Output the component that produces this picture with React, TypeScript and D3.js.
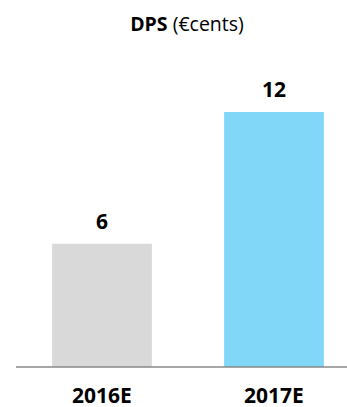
import React from "react";
import * as d3 from "d3";

const categories = ["2016E", "2017E"];
const values = [5.8, 12];
const valueLabels = ["6", "12"];
const barColors = ["#d9d9d9", "#81d7f8"];

export default function App() {
  const width = 347;
  const height = 407;
  const baseline = 367;
  const x = d3.scaleBand<string>().domain(categories).range([16, 360]).paddingInner(0.42).paddingOuter(0.21);
  const y = d3.scaleLinear().domain([0, 12]).range([baseline, 112]);
  const font = "'Open Sans', sans-serif";
  return (
    <svg width={width} height={height} style={{ position: "absolute", left: 0, top: 0 }}>
      <text x={187} y={31} textAnchor="middle" fontFamily={font} fontSize={19.5} fill="#000">
        <tspan fontWeight="bold">DPS</tspan>
        <tspan> (€cents)</tspan>
      </text>
      {categories.map((c, i) => (
        <g key={c}>
          <rect x={x(c)} y={y(values[i])} width={x.bandwidth()} height={baseline - y(values[i])} fill={barColors[i]} />
          <text x={(x(c) as number) + x.bandwidth() / 2} y={y(values[i]) - 15} textAnchor="middle" fontFamily={font} fontWeight="bold" fontSize={21}>
            {valueLabels[i]}
          </text>
          <text x={(x(c) as number) + x.bandwidth() / 2} y={402.5} textAnchor="middle" fontFamily={font} fontWeight="bold" fontSize={21}>
            {c}
          </text>
        </g>
      ))}
      <line x1={16} x2={347} y1={baseline} y2={baseline} stroke="#888" strokeWidth={1.5} />
    </svg>
  );
}
